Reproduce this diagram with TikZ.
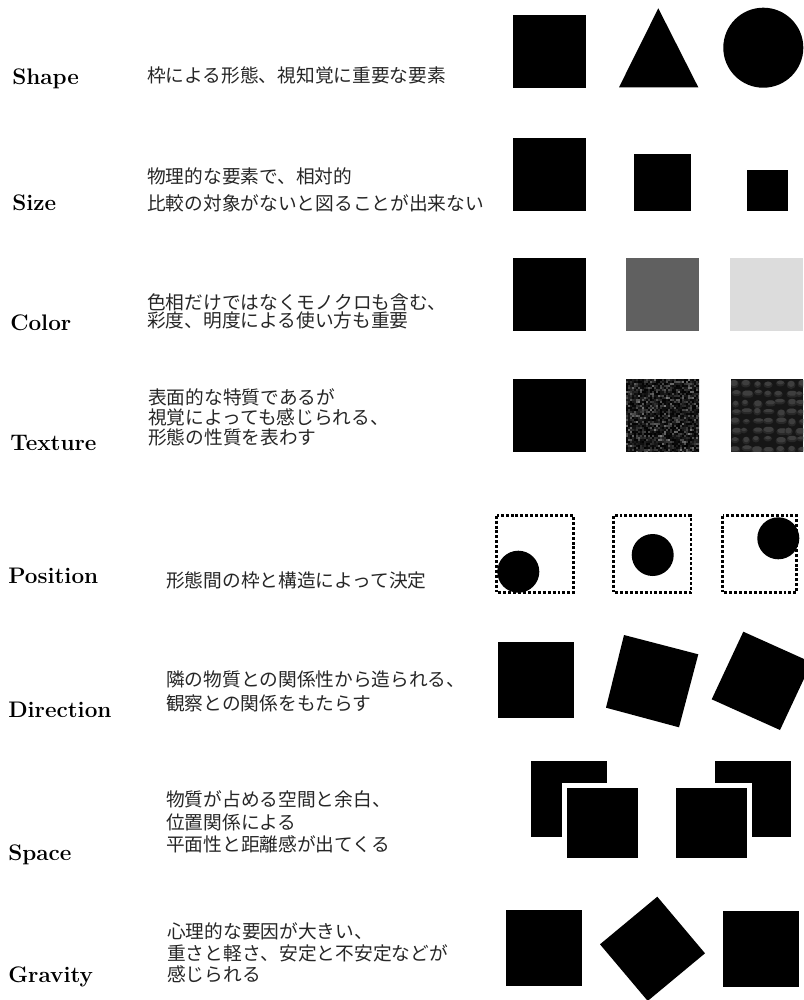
\documentclass[tikz,border=0pt]{standalone}
\usepackage{fontspec}
\newfontfamily\jp{Noto Sans CJK JP}
\definecolor{midg}{RGB}{96,96,96}
\definecolor{paleg}{RGB}{220,220,220}
\definecolor{stonebg}{RGB}{22,22,22}
\definecolor{stonelo}{RGB}{40,40,40}
\definecolor{stonehi}{RGB}{62,62,62}
\tikzset{
  lbl/.style={anchor=base west, inner sep=0pt, font=\fontsize{16pt}{19pt}\selectfont\bfseries},
  desc/.style={anchor=west, inner sep=0pt, align=left, text=black!85, font=\jp\fontsize{13.3pt}{#1}\selectfont},
  desc/.default=16pt,
  posbox/.style={draw, line width=2.1pt, dash pattern=on 2.1pt off 1.4pt},
}

\begin{document}
\begin{tikzpicture}[x=0.025cm, y=-0.025cm]
  \useasboundingbox (0,0) rectangle (803,1000);

  % labels
  \node[lbl] (shape) at (12,84) {Shape};
  \node[lbl] (size) at (12,210) {Size};
  \node[lbl] (color) at (10,330) {Color};
  \node[lbl] (texture) at (10,450) {Texture};
  \node[lbl] (position) at (8,583) {Position};
  \node[lbl] (direction) at (8,717) {Direction};
  \node[lbl] (space) at (8,860) {Space};
  \node[lbl] (gravity) at (8,982) {Gravity};

  % descriptions
  \node[desc] (shapetxt) at (147,75) {枠による形態、視知覚に重要な要素};
  \node[desc=19.4pt] (sizetxt) at (147,190) {物理的な要素で、相対的\\比較の対象がないと図ることが出来ない};
  \node[desc=12.8pt] (colortxt) at (147,311) {色相だけではなくモノクロも含む、\\彩度、明度による使い方も重要};
  \node[desc=14.2pt] (texturetxt) at (148,417) {表面的な特質であるが\\視覚によっても感じられる、\\形態の性質を表わす};
  \node[desc] (positiontxt) at (166,580) {形態間の枠と構造によって決定};
  \node[desc=17pt] (directiontxt) at (166,691) {隣の物質との関係性から造られる、\\観察との関係をもたらす};
  \node[desc=16.2pt] (spacetxt) at (166,822) {物質が占める空間と余白、\\位置関係による\\平面性と距離感が出てくる};
  \node[desc=15.4pt] (gravitytxt) at (167,953) {心理的な要因が大きい、\\重さと軽さ、安定と不安定などが\\感じられる};

  % shape
  \fill (512.7,15) rectangle (586,87.7);
  \fill (619,87.3) -- (658.3,8.3) -- (698.3,87.3) -- cycle;
  \fill (763.3,47.7) circle (1cm);

  % size
  \fill (512.7,137.7) rectangle (586,210.7);
  \fill (634,154) rectangle (691,210.7);
  \fill (747,170) rectangle (788,210.7);

  % color
  \fill (512.7,258) rectangle (586,330.7);
  \fill[midg] (626,258) rectangle (699,330.7);
  \fill[paleg] (730,258) rectangle (803,330.7);

  % texture
  \fill (512.7,379) rectangle (586,451.7);
  \begin{scope}
    \clip (626,379) rectangle (699,451.7);
    \pgfmathsetseed{12}
    \foreach \i in {0,...,36}{
      \foreach \j in {0,...,36}{
        \pgfmathsetmacro\g{int(100-50*rnd*rnd)}
        \fill[black!\g] (626+2*\i,379+2*\j) rectangle ++(2,2);
      }
    }
  \end{scope}
  \begin{scope}
    \clip (731,379) rectangle (803,451.7);
    \fill[stonebg] (731,379) rectangle (803,451.7);
    \pgfmathsetseed{5}
    \foreach \r in {0,...,7}{
      \foreach \c in {0,...,6}{
        \pgfmathsetmacro\w{7+5*rnd}
        \pgfmathsetmacro\h{5+3*rnd}
        \pgfmathsetmacro\xx{729+\c*11+4*rnd}
        \pgfmathsetmacro\yy{380+\r*9.3+2*rnd}
        \fill[stonelo, rounded corners=2.5pt] (\xx,\yy) rectangle ++(\w,\h);
        \fill[stonehi, rounded corners=2pt] (\xx+1,\yy) rectangle ++(\w-2,\h-2);
      }
    }
  \end{scope}

  % position
  \draw[posbox] (496.7,515.7) rectangle (573.3,592.7);
  \fill (518.3,571.7) circle (0.525cm);
  \draw[posbox] (613.3,515.7) rectangle (691,592.7);
  \fill (652.7,555) circle (0.525cm);
  \draw[posbox] (722.7,515.7) rectangle (796.7,592.7);
  \fill (778.3,538.3) circle (0.525cm);

  % direction
  \fill (497.7,641.7) rectangle (574,717.7);
  \fill (624,635) -- (698.3,654.3) -- (679,727.3) -- (606,707.7) -- cycle;
  \fill (743.3,631.7) -- (811.6,662.4) -- (780,730) -- (711.7,699.3) -- cycle;

  % space
  \fill (530.7,761) rectangle (607.3,836.7);
  \fill[white] (562.3,782.7) rectangle (643.3,863.3);
  \fill (567.3,787.7) rectangle (638.3,858.3);
  \fill (715,761) rectangle (790.7,836.7);
  \fill[white] (671,782.7) rectangle (752.3,863.3);
  \fill (676,787.7) rectangle (747.3,858.3);

  % gravity
  \fill (506,910) rectangle (582,985.7);
  \fill (657.3,896.7) -- (705,953.3) -- (647.7,1000.9) -- (600,944.3) -- cycle;
  \fill (722.7,911) rectangle (799,986.7);
\end{tikzpicture}
\end{document}
